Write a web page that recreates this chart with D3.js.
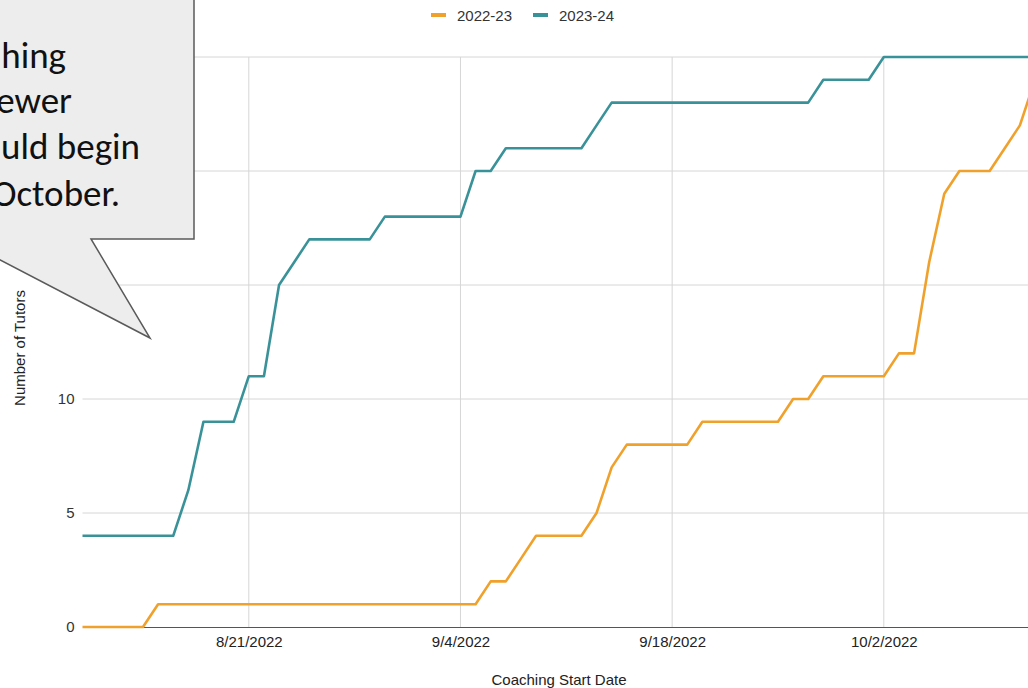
<!DOCTYPE html>
<html>
<head>
<meta charset="utf-8">
<script src="https://cdn.jsdelivr.net/npm/d3@7"></script>
<style>
  html, body { margin: 0; padding: 0; background: #ffffff; }
  svg { display: block; }
</style>
</head>
<body>
<svg id="chart" width="1028" height="688"></svg>
<script>
// Cumulative tutors with a coaching start date, one value per day from 8/10.
const startDate = "2022-08-10";
const seriesNames = ["2022-23", "2023-24"];
const seriesColors = ["#f0a12c", "#3a9299"];

const tutors2022 = [
  0, 0, 0, 0, 0,                                   // Aug 10-14
  1, 1, 1, 1, 1, 1, 1, 1, 1, 1, 1, 1, 1, 1, 1, 1, 1, // Aug 15-31
  1, 1, 1, 1, 1,                                   // Sep 1-5
  2, 2, 3, 4, 4, 4, 4, 5, 7, 8, 8, 8, 8, 8,        // Sep 6-19
  9, 9, 9, 9, 9, 9, 10, 10, 11, 11, 11,            // Sep 20-30
  11, 11, 12, 12, 16, 19, 20, 20, 20, 21, 22, 24   // Oct 1-12
];
const tutors2023 = [
  4, 4, 4, 4, 4, 4, 4,                             // Aug 10-16
  6, 9, 9, 9, 11, 11, 15, 16, 17, 17, 17, 17, 17, 18, 18, // Aug 17-31
  18, 18, 18, 18, 20, 20, 21, 21, 21, 21, 21, 21, 22, 23, // Sep 1-14
  23, 23, 23, 23, 23, 23, 23, 23, 23, 23, 23, 23, 23, 24, 24, 24, // Sep 15-30
  24, 25, 25, 25, 25, 25, 25, 25, 25, 25, 25, 25   // Oct 1-12
];
const xTickDates = ["2022-08-21", "2022-09-04", "2022-09-18", "2022-10-02"];
const yGrid = [0, 5, 10, 15, 20, 25];
// the upper labels sit beneath the callout, so only these are drawn
const yTickLabels = [0, 5, 10];
const calloutLines = ["hing", "ewer", "uld begin", "October."];

const parse = d3.timeParse("%Y-%m-%d");
const day0 = parse(startDate);
const dates = tutors2022.map((_, i) => d3.timeDay.offset(day0, i));
const series = [tutors2022, tutors2023].map((vals, k) => ({
  name: seriesNames[k],
  color: seriesColors[k],
  points: vals.map((v, i) => ({ date: dates[i], value: v }))
}));

const svg = d3.select("#chart");
const font = "Arial, 'Liberation Sans', sans-serif";

const x = d3.scaleTime()
  .domain([dates[0], dates[dates.length - 1]])
  .range([82.5, 1035]);
const y = d3.scaleLinear().domain([0, 25]).range([627, 57]);

// Grid
const grid = svg.append("g");
grid.selectAll("line.h").data(yGrid.filter(t => t > 0)).join("line")
  .attr("x1", x.range()[0]).attr("x2", x.range()[1])
  .attr("y1", d => y(d)).attr("y2", d => y(d))
  .attr("stroke", "#d6d6d6").attr("stroke-width", 1);
grid.selectAll("line.v").data(xTickDates.map(parse)).join("line")
  .attr("x1", d => x(d)).attr("x2", d => x(d))
  .attr("y1", y(0)).attr("y2", y(25))
  .attr("stroke", "#d6d6d6").attr("stroke-width", 1);

// Axes
const xAxis = d3.axisBottom(x)
  .tickValues(xTickDates.map(parse))
  .tickFormat(d => `${d.getMonth() + 1}/${d.getDate()}/${d.getFullYear()}`)
  .tickSize(0).tickPadding(9);
const gx = svg.append("g").attr("transform", `translate(0,${y(0)})`).call(xAxis);
gx.select(".domain").attr("stroke", "#555").attr("stroke-width", 1.2);
gx.selectAll("text").attr("font-family", font).attr("font-size", 15).attr("fill", "#222");

const yAxis = d3.axisLeft(y).tickValues(yTickLabels).tickSize(0).tickPadding(8);
const gy = svg.append("g").attr("transform", `translate(${x.range()[0]},0)`).call(yAxis);
gy.select(".domain").remove();
gy.selectAll("text").attr("font-family", font).attr("font-size", 15).attr("fill", "#333");

// Axis titles
svg.append("text")
  .attr("x", 559).attr("y", 685)
  .attr("text-anchor", "middle")
  .attr("font-family", font).attr("font-size", 15).attr("fill", "#222")
  .text("Coaching Start Date");
svg.append("text")
  .attr("transform", "translate(25,348) rotate(-90)")
  .attr("text-anchor", "middle")
  .attr("font-family", font).attr("font-size", 15).attr("fill", "#222")
  .text("Number of Tutors");

// Lines
const line = d3.line().x(d => x(d.date)).y(d => y(d.value));
svg.append("g").selectAll("path").data(series).join("path")
  .attr("d", d => line(d.points))
  .attr("fill", "none")
  .attr("stroke", d => d.color)
  .attr("stroke-width", 2.6)
  .attr("stroke-linejoin", "round");

// Legend
const legendPos = [431, 533];
const legend = svg.append("g").selectAll("g").data(series).join("g")
  .attr("transform", (d, i) => `translate(${legendPos[i]},0)`);
legend.append("rect")
  .attr("x", 0).attr("y", 13).attr("width", 15).attr("height", 4)
  .attr("fill", d => d.color);
legend.append("text")
  .attr("x", 26).attr("y", 20.5)
  .attr("font-family", font).attr("font-size", 15).attr("fill", "#333")
  .text(d => d.name);

// Callout
svg.append("path")
  .attr("d", "M-10,-10 L194,-10 L194,239 L91,239 L150,338 L-40,239 Z")
  .attr("fill", "#ededed")
  .attr("stroke", "#5a5a5a")
  .attr("stroke-width", 1.5)
  .attr("stroke-linejoin", "miter");
const calloutEnds = [66, 72, 140, 120];
const calloutBase = [68, 113, 159, 206];
svg.append("g").selectAll("text").data(calloutLines).join("text")
  .attr("x", (d, i) => calloutEnds[i])
  .attr("y", (d, i) => calloutBase[i])
  .attr("text-anchor", "end")
  .attr("font-family", "Calibri, Carlito, Lato, sans-serif")
  .attr("font-size", 37)
  .attr("fill", "#111")
  .text(d => d);
</script>
</body>
</html>
